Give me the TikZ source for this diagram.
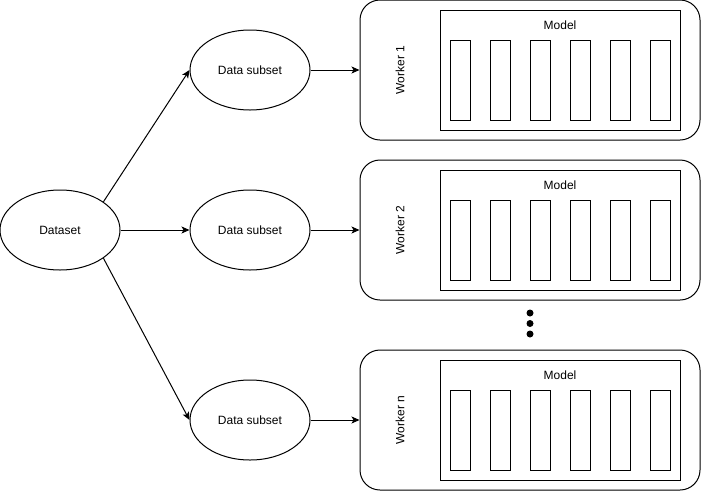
\documentclass[tikz,border=0pt]{standalone}
\usepackage{fontspec}
\setmainfont{Liberation Sans}
\usetikzlibrary{positioning,shapes,arrows.meta,calc}

\begin{document}
\begin{tikzpicture}[
  x=1pt, y=-1pt,
  line width=1pt,
  font=\fontsize{12}{14}\selectfont,
  datanode/.style={
    shape=ellipse,
    draw,
    minimum width=120pt,
    minimum height=80pt,
    inner sep=0pt,
  },
  workerbox/.style={
    shape=rectangle,
    draw,
    rounded corners=20pt,
    minimum width=340pt,
    minimum height=140pt,
  },
  modelbox/.style={draw, minimum width=240pt, minimum height=120pt},
  layerbox/.style={draw, minimum width=20pt, minimum height=80pt},
  dot/.style={shape=circle, fill, minimum size=7pt, inner sep=0pt},
  link/.style={-{Stealth[length=8pt, width=7pt, inset=2pt]}},
  ]
  \useasboundingbox (0,0) rectangle (701,491);
  \node[datanode] (ds) at (60,230) {Dataset};
  % one row per worker
  \foreach \k/\y in {1/70, 2/230, n/420} {
    \node[datanode] (sub\k) at (250,\y) {Data subset};
    \node[workerbox] (w\k) at (530,\y) {};
    \node[modelbox] (m\k) at (560,\y) {};
    \node (mlabel\k) at (560,\y-45) {Model};
    \node[rotate=90] (wlabel\k) at (400,\y) {Worker \k};
    \foreach \i in {0,...,5}
      \node[layerbox] (l\k\i) at (460+40*\i,\y+10) {};
    \draw[link] (sub\k.east) -- (w\k.west);
  }
  \draw[link] (ds.33) -- (sub1.west);
  \draw[link] (ds.east) -- (sub2.west);
  \draw[link] (ds.-33) -- (subn.west);
  % dots between worker 2 and worker n
  \node[dot] (dot1) at (530,313) {};
  \node[dot] (dot2) at (530,323.5) {};
  \node[dot] (dot3) at (530,334) {};
\end{tikzpicture}
\end{document}
